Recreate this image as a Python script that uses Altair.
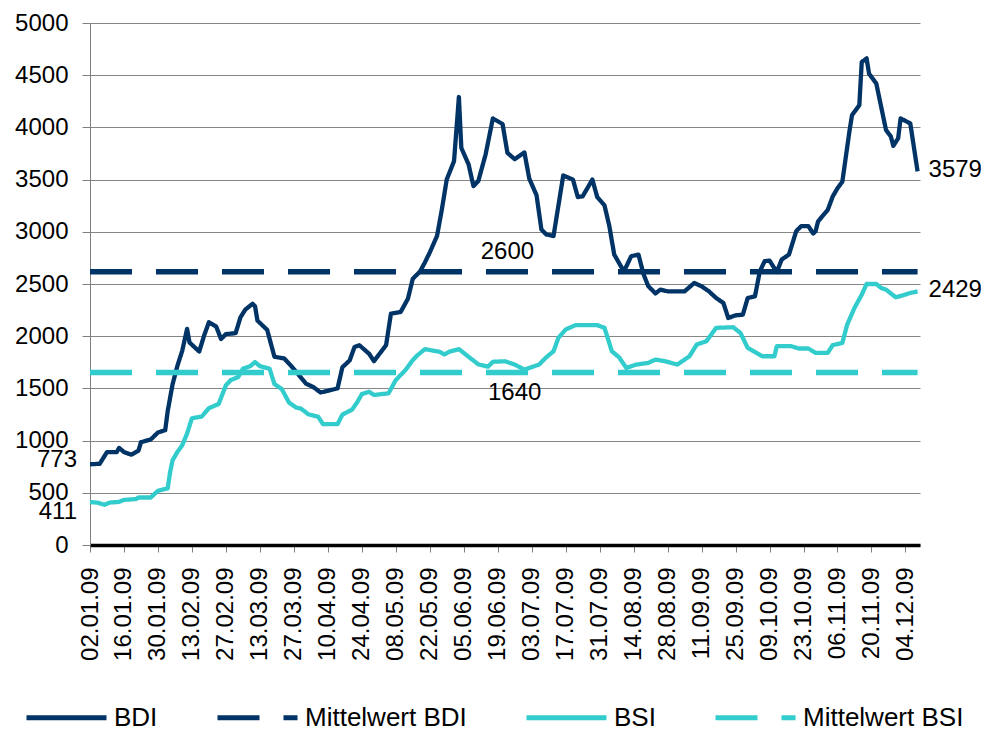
import altair as alt
import pandas as pd

BASE = pd.Timestamp("2009-01-02")

# --- values (day offset from 02.01.09, index value) ---
bdi_days = [0, 4, 7, 11, 12, 14, 17, 20, 21, 25, 28, 31, 32, 34, 36, 38, 40, 41, 45, 47,
            49, 52, 54, 56, 60, 62, 64, 67, 68, 69, 73, 76, 80, 82, 85, 89, 92, 95, 98, 102,
            104, 107, 109, 111, 115, 117, 122, 124, 128, 131, 133, 136, 138, 140, 143, 145, 147, 150, 152, 153,
            156, 158, 160, 163, 166, 170, 172, 175, 179, 181, 184, 186, 188, 191, 193, 195, 199, 201, 203, 207,
            209, 212, 214, 216, 220, 223, 226, 228, 230, 233, 235, 238, 245, 249, 252, 255, 258, 261, 263, 266,
            269, 271, 274, 276, 278, 280, 283, 285, 288, 291, 293, 296, 298, 299, 300, 304, 306, 308, 310, 313,
            314, 317, 318, 320, 321, 324, 326, 328, 330, 331, 333, 334, 338, 341]
bdi_vals = [773, 778, 890, 890, 930, 890, 865, 905, 985, 1010, 1078, 1100, 1280, 1537, 1715, 1860, 2070, 1940, 1853, 2005,
            2134, 2092, 1973, 2020, 2029, 2181, 2255, 2310, 2287, 2149, 2061, 1803, 1787, 1738, 1658, 1545, 1513, 1461, 1477, 1500,
            1703, 1768, 1897, 1913, 1832, 1761, 1914, 2216, 2232, 2359, 2550, 2620, 2707, 2802, 2961, 3216, 3502, 3677, 4291, 3804,
            3645, 3438, 3486, 3740, 4086, 4032, 3756, 3696, 3760, 3510, 3350, 3022, 2975, 2960, 3250, 3540, 3500, 3333, 3340, 3500,
            3333, 3253, 3054, 2782, 2620, 2766, 2782, 2600, 2480, 2410, 2446, 2430, 2430, 2510, 2478, 2430, 2366, 2318, 2174, 2200,
            2206, 2366, 2382, 2622, 2718, 2724, 2615, 2734, 2782, 3006, 3054, 3054, 2984, 3006, 3100, 3210, 3337, 3417, 3480, 3975,
            4118, 4213, 4627, 4661, 4515, 4420, 4197, 3975, 3912, 3823, 3896, 4086, 4038, 3579]

bsi_days = [0, 3, 6, 8, 12, 14, 19, 20, 25, 28, 32, 33, 34, 36, 38, 40, 42, 46, 49, 53,
            56, 58, 61, 63, 66, 68, 70, 74, 76, 79, 82, 85, 87, 90, 94, 96, 102, 104, 108, 110,
            112, 115, 117, 123, 126, 130, 133, 135, 138, 144, 146, 148, 152, 156, 160, 164, 166, 171, 175, 179,
            185, 188, 191, 193, 196, 200, 209, 212, 215, 218, 221, 225, 230, 233, 237, 242, 247, 250, 254, 258,
            265, 268, 271, 277, 282, 283, 289, 292, 296, 299, 304, 306, 310, 312, 315, 318, 320, 324, 326, 328,
            332, 335, 338, 341]
bsi_vals = [411, 406, 385, 406, 413, 432, 440, 455, 455, 519, 542, 697, 810, 891, 955, 1068, 1214, 1230, 1311, 1350,
            1530, 1580, 1607, 1688, 1713, 1752, 1713, 1688, 1542, 1494, 1364, 1316, 1306, 1251, 1229, 1158, 1158, 1249, 1297, 1364,
            1445, 1468, 1437, 1453, 1580, 1676, 1771, 1819, 1876, 1851, 1825, 1851, 1876, 1803, 1730, 1708, 1755, 1760, 1728, 1680,
            1728, 1798, 1856, 1984, 2064, 2106, 2106, 2080, 1856, 1798, 1696, 1728, 1744, 1776, 1760, 1728, 1808, 1920, 1952, 2080,
            2086, 2032, 1888, 1808, 1808, 1904, 1904, 1882, 1882, 1841, 1841, 1914, 1936, 2111, 2271, 2398, 2500, 2500, 2462, 2446,
            2373, 2392, 2414, 2429]

mean_bdi = 2617
mean_bsi = 1652
mean_label_texts = ["2600", "1640"]
mean_label_days = [172, 175]

series_names = ["BDI", "Mittelwert BDI", "BSI", "Mittelwert BSI"]
series_colors = ["#003366", "#003366", "#33CCCC", "#33CCCC"]
series_dashes = [[1, 0], [42, 24], [1, 0], [42, 24]]

tick_labels = ["02.01.09", "16.01.09", "30.01.09", "13.02.09", "27.02.09", "13.03.09", "27.03.09",
               "10.04.09", "24.04.09", "08.05.09", "22.05.09", "05.06.09", "19.06.09", "03.07.09",
               "17.07.09", "31.07.09", "14.08.09", "28.08.09", "11.09.09", "25.09.09", "09.10.09",
               "23.10.09", "06.11.09", "20.11.09", "04.12.09"]
x_end = "10.12.09"

FONT = "Liberation Sans"


def iso(day):
    return (BASE + pd.Timedelta(days=int(day))).strftime("%Y-%m-%d")


def ms(label):
    t = pd.to_datetime(label, format="%d.%m.%y").tz_localize("UTC")
    return int(t.value // 10**6)


bdi_rows, bsi_rows, mbdi_rows, mbsi_rows = [], [], [], []
for d, v in zip(bdi_days, bdi_vals):
    bdi_rows.append({"date": iso(d), "value": v, "series": "BDI"})
for d in (bdi_days[0], bdi_days[-1]):
    mbdi_rows.append({"date": iso(d), "value": mean_bdi, "series": "Mittelwert BDI"})
for d, v in zip(bsi_days, bsi_vals):
    bsi_rows.append({"date": iso(d), "value": v, "series": "BSI"})
for d in (bsi_days[0], bsi_days[-1]):
    mbsi_rows.append({"date": iso(d), "value": mean_bsi, "series": "Mittelwert BSI"})

x_scale = alt.Scale(type="utc", domain=[ms(tick_labels[0]), ms(x_end)])
y_scale = alt.Scale(domain=[0, 5000], nice=False)

x_axis = alt.Axis(values=[ms(t) for t in tick_labels], tickCount=len(tick_labels) + 5,
                  format="%d.%m.%y", labelAngle=270,
                  labelFontSize=24, labelFont=FONT, labelColor="black", labelPadding=15,
                  domainColor="black", domainWidth=3.5, tickColor="#808080", tickSize=7,
                  tickWidth=1, grid=False, title=None, labelOverlap=False, labelSeparation=0,
                  labelBound=False)
y_axis = alt.Axis(values=list(range(0, 5001, 500)), tickCount=15, format="d", labelFontSize=24,
                  labelFont=FONT, labelColor="black", labelPadding=14, domainColor="#808080",
                  domainWidth=1, tickColor="#808080", tickSize=8, tickWidth=1, grid=True,
                  gridColor="#868686", gridWidth=1.2, title=None, labelOverlap=False)

color_enc = alt.Color("series:N", scale=alt.Scale(domain=series_names, range=series_colors),
                      sort=series_names, title=None)
dash_enc = alt.StrokeDash("series:N", scale=alt.Scale(domain=series_names, range=series_dashes),
                          sort=series_names, title=None)


def series_layer(rows, width):
    return alt.Chart(pd.DataFrame(rows)).mark_line(strokeWidth=width, strokeJoin="round").encode(
        x=alt.X("date:T", scale=x_scale, axis=x_axis),
        y=alt.Y("value:Q", scale=y_scale, axis=y_axis),
        color=color_enc,
        strokeDash=dash_enc,
    )


def label(date, value, text, align, dx, dy):
    d = pd.DataFrame({"date": [date], "value": [value], "text": [text]})
    return alt.Chart(d).mark_text(align=align, baseline="middle", dx=dx, dy=dy, fontSize=24,
                                  font=FONT, color="black").encode(
        x=alt.X("date:T", scale=x_scale), y=alt.Y("value:Q", scale=y_scale), text="text:N")


labels = [
    label(iso(bdi_days[0]), bdi_vals[0], str(bdi_vals[0]), "right", -13, -4),
    label(iso(bsi_days[0]), bsi_vals[0], str(bsi_vals[0]), "right", -13, 10),
    label(iso(bdi_days[-1]), bdi_vals[-1], str(bdi_vals[-1]), "left", 11, -1),
    label(iso(bsi_days[-1]), bsi_vals[-1], str(bsi_vals[-1]), "left", 11, -1),
    label(iso(mean_label_days[0]), mean_bdi, mean_label_texts[0], "center", 0, -20),
    label(iso(mean_label_days[1]), mean_bsi, mean_label_texts[1], "center", 0, 20),
]

chart = alt.layer(
    series_layer(bdi_rows, 4.3),
    series_layer(mbdi_rows, 5.5),
    series_layer(bsi_rows, 4.3),
    series_layer(mbsi_rows, 5.5),
    *labels,
).properties(
    width=830, height=522,
    padding={"left": 82, "top": 15, "right": 61, "bottom": 186},
    autosize=alt.AutoSizeParams(type="none"),
).configure_view(strokeWidth=0).configure_axisX(labelOverlap=False).configure_legend(
    orient="none", legendX=-66, legendY=652, direction="horizontal",
    symbolType="stroke", symbolSize=6400, symbolStrokeWidth=5,
    labelFontSize=26, labelFont=FONT, labelColor="black", labelOffset=5, labelLimit=400,
    columnPadding=49, padding=0,
)

chart.save("out.html", embed_options={"renderer": "svg", "actions": False})
